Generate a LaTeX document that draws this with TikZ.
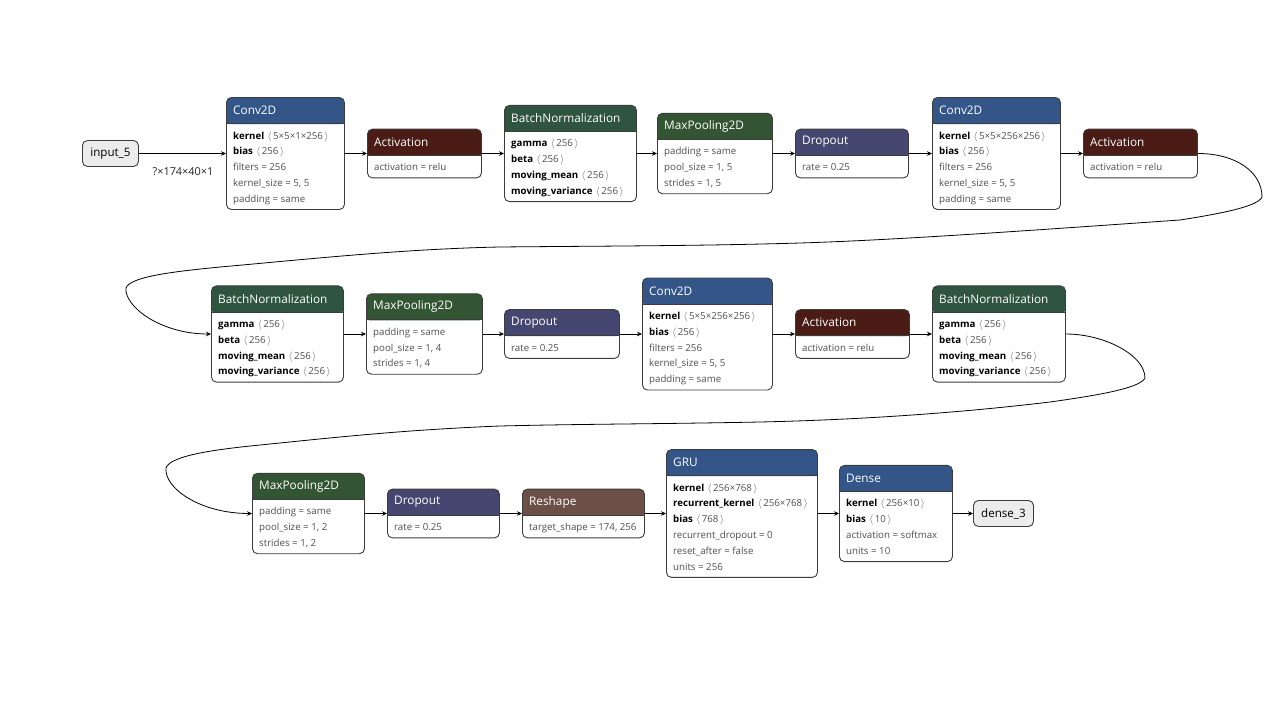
\documentclass[tikz,border=0pt]{standalone}
\usepackage{fontspec}
\setmainfont{Open Sans}
\usetikzlibrary{arrows.meta}

% header colours by layer category
\definecolor{clayer}{RGB}{51,85,136}
\definecolor{cact}{RGB}{75,27,22}
\definecolor{cnorm}{RGB}{47,84,64}
\definecolor{cpool}{RGB}{51,85,51}
\definecolor{cdrop}{RGB}{69,71,112}
\definecolor{cshape}{RGB}{108,79,71}
\definecolor{cborder}{RGB}{60,60,60}
\definecolor{ctext}{RGB}{80,80,80}
\definecolor{cio}{RGB}{236,236,236}

\tikzset{
  lbox/.style={draw=cborder, line width=0.9pt, rounded corners=5pt, fill=white,
    anchor=west, inner sep=0pt},
  iobox/.style={draw=cborder, line width=0.9pt, rounded corners=5pt, fill=cio,
    anchor=west, inner sep=0pt, minimum height=26pt,
    font=\fontsize{11.6}{13}\selectfont, text=black},
  ttl/.style={anchor=west, inner sep=0pt, text=white,
    font=\fontsize{11.8}{13}\selectfont},
  btxt/.style={anchor=base west, inner sep=0pt, text=ctext,
    font=\fontsize{9.7}{11}\selectfont},
  sepline/.style={draw=cborder, line width=0.8pt},
  elabel/.style={inner sep=0pt, text=black!85, font=\fontsize{10.9}{12}\selectfont},
  edge/.style={draw=black, line width=0.8pt, -{Stealth[length=5pt,width=4.5pt]}}
}

% #1 name, #2 left x, #3 centre y, #4 width, #5 body lines, #6 header colour, #7 title
\newcommand\layer[7]{%
  \pgfmathsetmacro\boxh{33+15.8*#5}%
  \node[lbox, minimum width=#4pt, minimum height=\boxh pt,
    path picture={%
      \fill[#6] ([xshift=-2pt,yshift=2pt]path picture bounding box.north west) rectangle
        ([xshift=2pt,yshift=-26.5pt]path picture bounding box.north east);}]
    (#1) at (#2,#3) {};
  \draw[sepline] ([yshift=-26.5pt]#1.north west) -- ([yshift=-26.5pt]#1.north east);
  \node[ttl] (#1-t) at ([xshift=7pt,yshift=-13.5pt]#1.north west) {#7};}

% body line #2 (0-based) of layer #1
\newcommand\attr[3]{%
  \node[btxt] (#1-#2) at ([xshift=7pt,yshift={-(42+15.8*#2)*1pt}]#1.north west) {#3};}

% tensor entry: bold name and shape
\newcommand\tns[2]{{\bfseries\color{black}#1}\hspace{0.35em}$\langle$\hspace{1.6pt}#2\hspace{1.6pt}$\rangle$}

\begin{document}
\begin{tikzpicture}[x=1pt,y=-1pt]
\useasboundingbox (0,0) rectangle (1280,720);

% ---------------- row 1 ----------------
\node[iobox, minimum width=56pt] (in5) at (82,153.5) {input\_5};

\layer{c1}{226}{153.5}{118}{5}{clayer}{Conv2D}
\attr{c1}{0}{\tns{kernel}{5×5×1×256}}
\attr{c1}{1}{\tns{bias}{256}}
\attr{c1}{2}{filters = 256}
\attr{c1}{3}{kernel\_size = 5, 5}
\attr{c1}{4}{padding = same}

\layer{a1}{367}{153.5}{114}{1}{cact}{Activation}
\attr{a1}{0}{activation = relu}

\layer{bn1}{504}{153.5}{132}{4}{cnorm}{BatchNormalization}
\attr{bn1}{0}{\tns{gamma}{256}}
\attr{bn1}{1}{\tns{beta}{256}}
\attr{bn1}{2}{\tns{moving\_mean}{256}}
\attr{bn1}{3}{\tns{moving\_variance}{256}}

\layer{mp1}{657}{153.5}{115}{3}{cpool}{MaxPooling2D}
\attr{mp1}{0}{padding = same}
\attr{mp1}{1}{pool\_size = 1, 5}
\attr{mp1}{2}{strides = 1, 5}

\layer{d1}{795}{153.5}{113}{1}{cdrop}{Dropout}
\attr{d1}{0}{rate = 0.25}

\layer{c2}{932}{153.5}{128}{5}{clayer}{Conv2D}
\attr{c2}{0}{\tns{kernel}{5×5×256×256}}
\attr{c2}{1}{\tns{bias}{256}}
\attr{c2}{2}{filters = 256}
\attr{c2}{3}{kernel\_size = 5, 5}
\attr{c2}{4}{padding = same}

\layer{a2}{1083}{153.5}{114}{1}{cact}{Activation}
\attr{a2}{0}{activation = relu}

% ---------------- row 2 ----------------
\layer{bn2}{211}{334}{132}{4}{cnorm}{BatchNormalization}
\attr{bn2}{0}{\tns{gamma}{256}}
\attr{bn2}{1}{\tns{beta}{256}}
\attr{bn2}{2}{\tns{moving\_mean}{256}}
\attr{bn2}{3}{\tns{moving\_variance}{256}}

\layer{mp2}{366}{334}{116}{3}{cpool}{MaxPooling2D}
\attr{mp2}{0}{padding = same}
\attr{mp2}{1}{pool\_size = 1, 4}
\attr{mp2}{2}{strides = 1, 4}

\layer{d2}{504}{334}{115}{1}{cdrop}{Dropout}
\attr{d2}{0}{rate = 0.25}

\layer{c3}{642}{334}{130}{5}{clayer}{Conv2D}
\attr{c3}{0}{\tns{kernel}{5×5×256×256}}
\attr{c3}{1}{\tns{bias}{256}}
\attr{c3}{2}{filters = 256}
\attr{c3}{3}{kernel\_size = 5, 5}
\attr{c3}{4}{padding = same}

\layer{a3}{795}{334}{114}{1}{cact}{Activation}
\attr{a3}{0}{activation = relu}

\layer{bn3}{932}{334}{133}{4}{cnorm}{BatchNormalization}
\attr{bn3}{0}{\tns{gamma}{256}}
\attr{bn3}{1}{\tns{beta}{256}}
\attr{bn3}{2}{\tns{moving\_mean}{256}}
\attr{bn3}{3}{\tns{moving\_variance}{256}}

% ---------------- row 3 ----------------
\layer{mp3}{252}{513.5}{112}{3}{cpool}{MaxPooling2D}
\attr{mp3}{0}{padding = same}
\attr{mp3}{1}{pool\_size = 1, 2}
\attr{mp3}{2}{strides = 1, 2}

\layer{d3}{387}{513.5}{112}{1}{cdrop}{Dropout}
\attr{d3}{0}{rate = 0.25}

\layer{rs}{522}{513.5}{122}{1}{cshape}{Reshape}
\attr{rs}{0}{target\_shape = 174, 256}

\layer{gru}{666}{513.5}{151}{6}{clayer}{GRU}
\attr{gru}{0}{\tns{kernel}{256×768}}
\attr{gru}{1}{\tns{recurrent\_kernel}{256×768}}
\attr{gru}{2}{\tns{bias}{768}}
\attr{gru}{3}{recurrent\_dropout = 0}
\attr{gru}{4}{reset\_after = false}
\attr{gru}{5}{units = 256}

\layer{dn}{839}{513.5}{113}{4}{clayer}{Dense}
\attr{dn}{0}{\tns{kernel}{256×10}}
\attr{dn}{1}{\tns{bias}{10}}
\attr{dn}{2}{activation = softmax}
\attr{dn}{3}{units = 10}

\node[iobox, minimum width=60pt] (out) at (973,513.5) {dense\_3};

% ---------------- connectors ----------------
\draw[edge] (in5.east) -- (c1.west);
\node[elabel] (shape) at (183,172) {?×174×40×1};
\draw[edge] (c1.east) -- (a1.west);
\draw[edge] (a1.east) -- (bn1.west);
\draw[edge] (bn1.east) -- (mp1.west);
\draw[edge] (mp1.east) -- (d1.west);
\draw[edge] (d1.east) -- (c2.west);
\draw[edge] (c2.east) -- (a2.west);

\draw[edge] (a2.east) .. controls +(38,0) and (1262,172) .. (1262,197)
  .. controls (1258,206) and (1225,213) .. (1180,220)
  .. controls (1050,229) and (900,240) .. (800,243)
  .. controls (700,246) and (600,246) .. (500,247)
  .. controls (400,249) and (300,260) .. (220,267)
  .. controls (180,271) and (130,276) .. (126,288)
  .. controls (124,306) and (160,334) .. (bn2.west);

\draw[edge] (bn2.east) -- (mp2.west);
\draw[edge] (mp2.east) -- (d2.west);
\draw[edge] (d2.east) -- (c3.west);
\draw[edge] (c3.east) -- (a3.west);
\draw[edge] (a3.east) -- (bn3.west);

\draw[edge] (bn3.east) .. controls +(38,0) and (1145,355) .. (1145,378)
  .. controls (1140,388) and (1100,395) .. (1050,402)
  .. controls (950,414) and (850,420) .. (760,422)
  .. controls (660,424) and (580,424) .. (500,426)
  .. controls (400,430) and (330,438) .. (260,445)
  .. controls (220,449) and (170,455) .. (166,468)
  .. controls (164,488) and (200,513.5) .. (mp3.west);

\draw[edge] (mp3.east) -- (d3.west);
\draw[edge] (d3.east) -- (rs.west);
\draw[edge] (rs.east) -- (gru.west);
\draw[edge] (gru.east) -- (dn.west);
\draw[edge] (dn.east) -- (out.west);
\end{tikzpicture}
\end{document}
